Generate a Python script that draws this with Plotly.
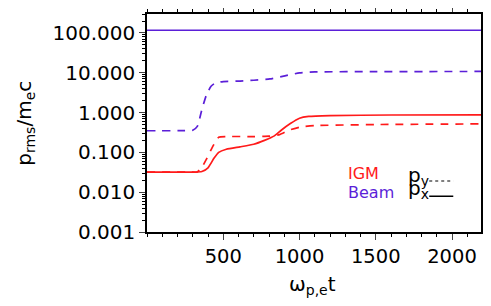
import plotly.graph_objects as go

# ---- data ----
t_beam_px = [0, 2190]
beam_px = [117, 117]

t_beam_py = [0, 250, 300, 330, 360, 390, 420, 450, 500, 610, 700, 806, 904, 1000, 1100, 1500, 2190]
beam_py = [0.35, 0.352, 0.36, 0.45, 1.2, 2.8, 4.6, 5.6, 6.0, 6.2, 6.5, 7.0, 8.4, 9.9, 10.5, 10.7, 10.8]

t_igm_px = [0, 300, 360, 400, 440, 470, 520, 610, 700, 770, 835, 880, 940, 1000, 1060, 1200, 1600, 2190]
igm_px = [0.032, 0.032, 0.033, 0.041, 0.072, 0.100, 0.120, 0.138, 0.160, 0.20, 0.26, 0.36, 0.53, 0.72, 0.80, 0.84, 0.87, 0.88]

t_igm_py = [0, 290, 328, 360, 390, 435, 470, 520, 700, 800, 870, 930, 1000, 1100, 1500, 2190]
igm_py = [0.032, 0.032, 0.032, 0.042, 0.068, 0.15, 0.24, 0.25, 0.25, 0.255, 0.28, 0.36, 0.43, 0.47, 0.50, 0.52]

x_ticks = [500, 1000, 1500, 2000]
y_ticks = [0.001, 0.01, 0.1, 1, 10, 100]
y_ticktext = ["0.001", "0.010", "0.100", "1.000", "10.000", "100.000"]

RED = "#ff1a1a"
PURPLE = "#5b1fd8"
FONT = "DejaVu Sans"
SM = 0.5
DASH = "8px,7px"
LW = 1.7

fig = go.Figure()
fig.add_trace(go.Scatter(x=t_beam_px, y=beam_px, mode="lines",
                         line=dict(color=PURPLE, width=LW), showlegend=False))
fig.add_trace(go.Scatter(x=t_beam_py, y=beam_py, mode="lines",
                         line=dict(color=PURPLE, width=LW, dash=DASH, shape="spline", smoothing=SM),
                         showlegend=False))
fig.add_trace(go.Scatter(x=t_igm_px, y=igm_px, mode="lines",
                         line=dict(color=RED, width=LW, shape="spline", smoothing=SM), showlegend=False))
fig.add_trace(go.Scatter(x=t_igm_py, y=igm_py, mode="lines",
                         line=dict(color=RED, width=LW, dash=DASH, shape="spline", smoothing=SM),
                         showlegend=False))

minor_y = [k * 10 ** e for e in range(-3, 3) for k in range(2, 10)]

fig.update_xaxes(range=[0, 2190], tickvals=x_ticks, ticks="outside", ticklen=6,
                 tickwidth=1.2, showline=True, linecolor="black", linewidth=1.5,
                 mirror="allticks", showgrid=False, zeroline=False, automargin=False,
                 tickfont=dict(family=FONT, size=19.5, color="black"),
                 minor=dict(ticks="outside", ticklen=3, dtick=100, tick0=0, showgrid=False,
                            tickcolor="black"))
fig.update_yaxes(type="log", range=[-3, 2.477], tickvals=y_ticks, ticktext=y_ticktext,
                 ticks="outside", ticklen=6, tickwidth=1.2, showline=True, linecolor="black",
                 linewidth=1.5, mirror="allticks", showgrid=False, zeroline=False, automargin=False,
                 tickfont=dict(family=FONT, size=20, color="black"),
                 minor=dict(ticks="outside", ticklen=3, tickvals=minor_y, showgrid=False,
                            tickcolor="black"))

# axis titles
fig.add_annotation(x=-0.366, y=0.5, xref="paper", yref="paper", text="p<sub>rms</sub>/m<sub>e</sub>c",
                   showarrow=False, textangle=-90, xanchor="center", yanchor="middle",
                   font=dict(family=FONT, size=20, color="black"))
fig.add_annotation(x=0.497, y=-0.245, xref="paper", yref="paper", text="ω<sub>p,e</sub>t",
                   showarrow=False, xanchor="center", yanchor="middle",
                   font=dict(family=FONT, size=20, color="black"))

# legend block
fig.add_annotation(x=0.596, y=0.27, xref="paper", yref="paper", text="IGM", showarrow=False,
                   xanchor="left", yanchor="middle", font=dict(family=FONT, size=16, color=RED))
fig.add_annotation(x=0.596, y=0.182, xref="paper", yref="paper", text="Beam", showarrow=False,
                   xanchor="left", yanchor="middle", font=dict(family=FONT, size=16, color=PURPLE))
fig.add_annotation(x=0.776, y=0.258, xref="paper", yref="paper", text="p<sub>y</sub>",
                   showarrow=False, xanchor="left", yanchor="middle",
                   font=dict(family=FONT, size=20, color="black"))
fig.add_annotation(x=0.776, y=0.195, xref="paper", yref="paper", text="p<sub>x</sub>",
                   showarrow=False, xanchor="left", yanchor="middle",
                   font=dict(family=FONT, size=20, color="black"))
fig.add_shape(type="line", xref="paper", yref="paper", x0=0.845, x1=0.917, y0=0.234, y1=0.234,
              line=dict(color="black", width=1.2, dash="dot"))
fig.add_shape(type="line", xref="paper", yref="paper", x0=0.845, x1=0.917, y0=0.164, y1=0.164,
              line=dict(color="black", width=1.5))

# page body has an 8px margin, so offsets compensate for it
fig.update_layout(width=491, height=306, margin=dict(l=139, r=18.3, t=6, b=82.3),
                  paper_bgcolor="white", plot_bgcolor="white", showlegend=False)

fig.write_html("out.html")
